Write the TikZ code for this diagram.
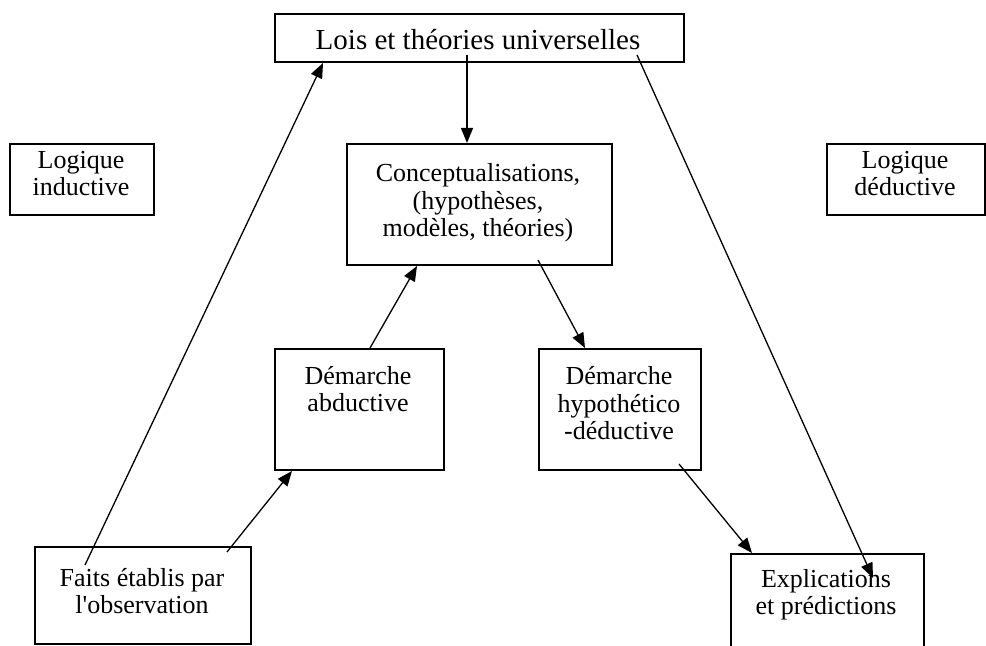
\documentclass[tikz,border=0pt]{standalone}
\usepackage{fontspec}
\setmainfont{Liberation Serif}[Ligatures=TeXOff]
\usetikzlibrary{arrows.meta,calc}

\tikzset{
  box/.style={draw, line width=1pt, inner sep=0pt, anchor=north west},
  % anchor=base sits on the baseline of the last line of a multi-line node
  txt/.style={align=center, anchor=base, inner sep=0pt,
              font=\fontsize{13pt}{13.75pt}\selectfont},
  arr/.style={line width=0.65pt, -{Triangle[length=7.5pt,width=6pt]}}
}

\begin{document}
\begin{tikzpicture}[x=0.5pt,y=-0.5pt]
\useasboundingbox (0,0) rectangle (986,646);

% boxes (anchored at their top-left corners)
\node[box, minimum width=204.5pt, minimum height=24pt]   (lois)    at (274,13)  {};
\node[box, minimum width=72pt,    minimum height=35.5pt] (indu)    at (9,143)   {};
\node[box, minimum width=132.5pt, minimum height=60.5pt] (concept) at (346,143) {};
\node[box, minimum width=79pt,    minimum height=35.5pt] (dedu)    at (826,143) {};
\node[box, minimum width=84.5pt,  minimum height=60.5pt] (abdu)    at (274,348) {};
\node[box, minimum width=81pt,    minimum height=60.5pt] (hypo)    at (538,348) {};
\node[box, minimum width=108pt,   minimum height=48.5pt] (faits)   at (34,546)  {};
\node[box, minimum width=96.5pt,  minimum height=60pt]   (expl)    at (730,553) {};

% texts
\node[txt, font=\fontsize{14.5pt}{15pt}\selectfont] (tlois) at (478,50) {Lois et théories universelles};
\node[txt] (tindu)    at (81,196)  {Logique\\inductive};
\node[txt] (tconcept) at (478,237) {Conceptualisations,\\(hypothèses,\\modèles, théories)};
\node[txt] (tdedu)    at (905,196) {Logique\\déductive};
\node[txt] (tabdu)    at (358,412) {Démarche\\abductive};
\node[txt] (thypo)    at (619,440) {Démarche\\hypothético\\-déductive};
\node[txt] (tfaits)   at (142,614) {Faits établis par\\l'observation};
\node[txt] (texpl)    at (826,615) {Explications\\et prédictions};

% connector end points
\coordinate (s1) at ($(lois.south west)+(193,-8)$);
\coordinate (s2) at ($(faits.north west)+(51,19)$);
\coordinate (e2) at ($(lois.south west)+(49,0)$);
\coordinate (s3) at ($(faits.north west)+(193,6)$);
\coordinate (e3) at ($(abdu.south west)+(18,0)$);
\coordinate (s4) at ($(abdu.north west)+(96,0)$);
\coordinate (e4) at ($(concept.south west)+(71,0)$);
\coordinate (s5) at ($(concept.south west)+(192,-6)$);
\coordinate (e5) at ($(hypo.north west)+(47,0)$);
\coordinate (s6) at ($(hypo.south west)+(141,-7)$);
\coordinate (e6) at ($(expl.north west)+(22,0)$);
\coordinate (s7) at ($(lois.south west)+(363,-8)$);
\coordinate (e7) at ($(expl.north west)+(143,25)$);

% connectors
\draw[arr] (s1) -- (s1 |- concept.north);
\draw[arr] (s2) -- (e2);
\draw[arr] (s3) -- (e3);
\draw[arr] (s4) -- (e4);
\draw[arr] (s5) -- (e5);
\draw[arr] (s6) -- (e6);
\draw[arr] (s7) -- (e7);
\end{tikzpicture}
\end{document}
